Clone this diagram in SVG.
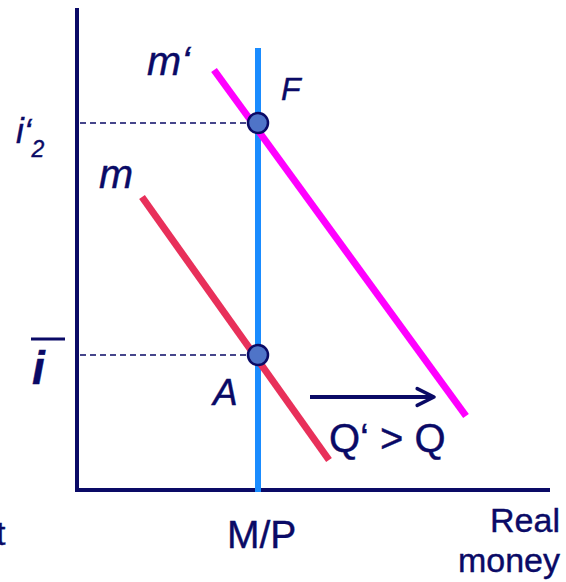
<svg xmlns="http://www.w3.org/2000/svg" width="566" height="582" viewBox="0 0 566 582">
<style>
.lbl{font-family:"Liberation Sans",Arial,sans-serif;fill:#0a0a66;stroke:#0a0a66;stroke-width:0.4}
.it{font-style:italic}
.dash{stroke:#0a0a66;stroke-width:1.5;stroke-dasharray:6,4;fill:none}
.pt{fill:#4f74c8;stroke:#0a0a66;stroke-width:2.5}
</style>
<defs>
<marker id="ah" viewBox="0 0 20 20" refX="17" refY="10" markerWidth="6" markerHeight="6" markerUnits="strokeWidth" orient="auto">
<path d="M3,3 L17,10 L3,17" fill="none" stroke="#0a0a66" stroke-width="3" stroke-linecap="round" stroke-linejoin="round"/>
</marker>
</defs>
<rect width="566" height="582" fill="#fff"/>
<g id="connectors">
<line x1="77" y1="8" x2="77" y2="492" stroke="#0a0a66" stroke-width="4"/>
<line x1="75" y1="490" x2="550" y2="490" stroke="#0a0a66" stroke-width="4"/>
<line x1="258" y1="48" x2="258" y2="492" stroke="#1a8cff" stroke-width="6"/>
<line x1="214" y1="70" x2="466" y2="416" stroke="#ff00ff" stroke-width="7"/>
<line x1="142" y1="197" x2="329" y2="460" stroke="#e8305a" stroke-width="7"/>
<line class="dash" x1="80" y1="123" x2="248" y2="123"/>
<line class="dash" x1="80" y1="355" x2="248" y2="355"/>
<line x1="310" y1="397" x2="434" y2="397" stroke="#0a0a66" stroke-width="4" marker-end="url(#ah)"/>
</g>
<g id="F"><circle class="pt" cx="258" cy="123" r="10"/><text class="lbl it" x="281" y="100" font-size="32">F</text></g>
<g id="A"><circle class="pt" cx="258" cy="355" r="10"/><text class="lbl it" x="213" y="405" font-size="37">A</text></g>
<g id="mprime"><text class="lbl it" x="147" y="75" font-size="41">m‘</text></g>
<g id="m"><text class="lbl it" x="99" y="188" font-size="41">m</text></g>
<g id="i2"><text class="lbl it" x="16" y="143" font-size="35">i‘<tspan font-size="23" dy="14">2</tspan></text></g>
<g id="ibar"><line x1="31" y1="339" x2="65" y2="339" stroke="#0a0a66" stroke-width="3"/><text class="lbl it" x="32" y="384" font-size="46" font-weight="bold">i</text></g>
<g id="Q"><text class="lbl" x="329" y="452" font-size="40">Q‘ &gt; Q</text></g>
<g id="MP"><text class="lbl" x="227" y="548" font-size="39">M/P</text></g>
<g id="realmoney"><text class="lbl" x="560" y="532" font-size="34" text-anchor="end">Real</text><text class="lbl" x="560" y="572" font-size="34" text-anchor="end">money</text></g>
<g id="t"><text class="lbl" x="-4" y="545" font-size="34">t</text></g>
</svg>
